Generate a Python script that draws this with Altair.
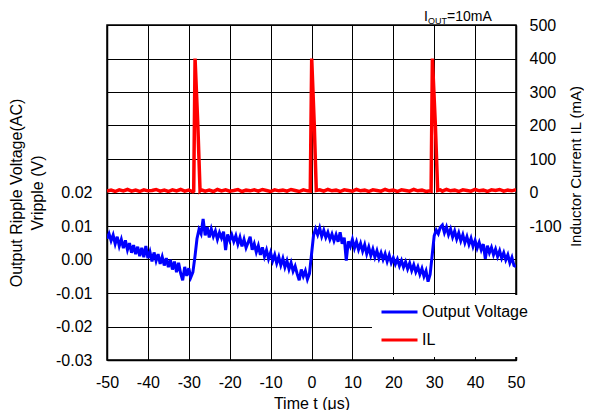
import altair as alt
import pandas as pd

# ---- axis ticks / categories ----
x_ticks = [-50, -40, -30, -20, -10, 0, 10, 20, 30, 40, 50]
v_ticks = [-0.03, -0.02, -0.01, 0.0, 0.01, 0.02, 0.03, 0.04, 0.05, 0.06, 0.07]
il_ticks = [-500, -400, -300, -200, -100, 0, 100, 200, 300, 400, 500]
series_names = ["Output Voltage", "IL"]
series_colors = ["#0000ff", "#ff0000"]

# ---- output ripple voltage (V), sampled every 0.5 us from -50 us ----
vout = [
    0.0062, 0.0077, 0.0056, 0.0073, 0.0047, 0.0068, 0.0040, 0.0060, 0.0034, 0.0057,
    0.0029, 0.0049, 0.0020, 0.0043, 0.0016, 0.0038, 0.0010, 0.0035, 0.0007, 0.0040,
    0.0004, 0.0023, -0.0006, 0.0021, -0.0004, 0.0016, -0.0013, 0.0008, -0.0018, 0.0004,
    -0.0023, -0.0001, -0.0030, -0.0006, -0.0038, -0.0010, -0.0041, -0.0062, -0.0022, -0.0049,
    -0.0026, -0.0053, -0.0038, 0.0008, 0.0062, 0.0090, 0.0077, 0.0121, 0.0072, 0.0097,
    0.0066, 0.0091, 0.0069, 0.0085, 0.0060, 0.0080, 0.0064, 0.0083, 0.0028, 0.0075,
    0.0057, 0.0074, 0.0054, 0.0071, 0.0046, 0.0066, 0.0039, 0.0060, 0.0035, 0.0051,
    0.0068, 0.0029, 0.0047, 0.0022, 0.0041, 0.0014, 0.0036, 0.0009, 0.0028, 0.0002,
    0.0021, -0.0004, 0.0014, -0.0011, 0.0008, -0.0017, 0.0003, -0.0023, -0.0004, -0.0029,
    -0.0010, -0.0035, -0.0020, -0.0043, -0.0062, -0.0030, -0.0050, -0.0034, -0.0059, -0.0042,
    0.0015, 0.0072, 0.0091, 0.0074, 0.0094, 0.0069, 0.0087, 0.0066, 0.0081, 0.0060,
    0.0076, 0.0056, 0.0074, 0.0053, 0.0081, 0.0047, 0.0065, -0.0003, 0.0054, 0.0039,
    0.0060, 0.0034, 0.0053, 0.0030, 0.0048, 0.0025, 0.0044, 0.0017, 0.0037, 0.0012,
    0.0031, 0.0007, 0.0026, 0.0003, 0.0020, 0.0000, 0.0017, -0.0006, 0.0013, -0.0010,
    0.0005, -0.0014, 0.0001, -0.0019, -0.0003, -0.0023, -0.0007, -0.0028, -0.0011, -0.0033,
    -0.0016, -0.0037, -0.0022, -0.0044, -0.0027, -0.0050, -0.0034, -0.0066, -0.0045, 0.0012,
    0.0071, 0.0088, 0.0077, 0.0096, 0.0103, 0.0080, 0.0097, 0.0074, 0.0091, 0.0067,
    0.0085, 0.0061, 0.0079, 0.0056, 0.0074, 0.0050, 0.0068, 0.0045, 0.0063, 0.0039,
    0.0057, 0.0034, 0.0051, 0.0029, 0.0046, 0.0002, 0.0041, 0.0020, 0.0036, 0.0014,
    0.0031, 0.0009, 0.0026, 0.0004, 0.0020, -0.0001, 0.0014, -0.0010, 0.0006, -0.0018,
    -0.0021,
]
vout_t = [-50 + 0.5 * i for i in range(len(vout))]

# ---- inductor current (mA) ----
il_t = [
    -50, -49, -48, -47, -46, -45, -44, -43, -42, -41, -40, -39, -38, -37, -36, -35,
    -34, -33, -32, -31, -30, -29, -28.8, -28.47, -27.79, -27.25, -27, -26, -25, -24,
    -23, -22, -21, -20, -19, -18, -17, -16, -15, -14, -13, -12, -11, -10, -9, -8,
    -7, -6, -5, -4, -3, -2, -1, -0.3, 0.05, 0.68, 1.17, 2, 3, 4, 5, 6, 7, 8, 9, 10,
    11, 12, 13, 14, 15, 16, 17, 18, 19, 20, 21, 22, 23, 24, 25, 26, 27, 28, 29,
    29.24, 29.56, 30.29, 30.85, 31.5, 32, 33, 34, 35, 36, 37, 38, 39, 40, 41, 42,
    43, 44, 45, 46, 47, 48, 49, 50,
]
il = [
    4, 7, 3, 8, 5, 9, 4, 7, 3, 8, 5, 6, 9, 4, 7, 3,
    8, 5, 9, 4, 7, 2, 4, 400, 200, 5, 8, 4, 7, 3,
    9, 5, 8, 4, 6, 9, 3, 7, 5, 8, 4, 9, 6, 3, 8, 5,
    7, 4, 9, 6, 3, 8, 5, 4, 400, 200, 6, 8, 4, 9, 5, 7, 3, 8, 6, 4,
    9, 5, 7, 3, 8, 6, 4, 9, 5, 7, 3, 8, 6, 4, 9, 5, 7, 3, 5,
    4, 400, 200, 6, 8, 4, 9, 5, 7, 3, 8, 6, 4, 9, 5, 7,
    3, 8, 6, 9, 4, 7, 5, 8,
]

df_v = pd.DataFrame({"t": vout_t, "v": vout, "s": series_names[0]})
df_i = pd.DataFrame({"t": il_t, "i": il, "s": series_names[1]})

xscale = alt.Scale(domain=[-50, 50], nice=False, zero=False)
xaxis = alt.Axis(
    values=x_ticks, title="Time t (μs)", grid=True, gridColor="#000", gridWidth=1,
    gridOpacity=1, ticks=False, labelPadding=14, labelFlush=False,
    labelExpr="'' + datum.value",
    domainColor="#000", domainWidth=1.5, titlePadding=5,
)

legend = alt.Legend(
    title=None, orient="none", legendX=265, legendY=270, fillColor="white",
    padding=8, symbolType="stroke", symbolSize=1296, symbolStrokeWidth=3,
    labelFontSize=16, labelOffset=3, rowPadding=10, clipHeight=18,
)
color = alt.Color("s:N", scale=alt.Scale(domain=series_names, range=series_colors), legend=legend)

left_axis = alt.Axis(
    orient="left", values=v_ticks, grid=True, gridColor="#000", gridWidth=1, gridOpacity=1,
    ticks=False, labelPadding=15, labelFlush=False,
    labelExpr="datum.value > 0.025 ? '' : replace(format(datum.value, '.2f'), '\u2212', '-')",
    title=["Output Ripple Voltage(AC)", "Vripple (V)"], titleLineHeight=21, titlePadding=10,
    domainColor="#000", domainWidth=1.5,
)
right_axis = alt.Axis(
    orient="right", values=il_ticks, grid=False, ticks=False, labelPadding=13, labelFlush=False,
    labelExpr="datum.value < -150 ? '' : '' + datum.value",
    title="Inductor Current IL (mA)", titleAngle=270, titleFontSize=15,
    titleX=59, titleY=141, titleAlign="center", titleBaseline="middle",
    domainColor="#000", domainWidth=1.5,
)

blue = alt.Chart(df_v).mark_line(strokeWidth=3, clip=True).encode(
    x=alt.X("t:Q", scale=xscale, axis=xaxis),
    y=alt.Y("v:Q", scale=alt.Scale(domain=[-0.03, 0.07], nice=False, zero=False), axis=left_axis),
    color=color,
)
red = alt.Chart(df_i).mark_line(strokeWidth=3.5, clip=True).encode(
    x=alt.X("t:Q", scale=xscale, axis=xaxis),
    y=alt.Y("i:Q", scale=alt.Scale(domain=[-500, 500], nice=False, zero=False), axis=right_axis),
    color=color,
)

ann_main = alt.Chart(pd.DataFrame({"txt": ["I"]})).mark_text(
    fontSize=14, align="left", baseline="alphabetic", color="#000"
).encode(x=alt.value(317), y=alt.value(-4), text="txt:N")
ann_sub = alt.Chart(pd.DataFrame({"txt": ["OUT"]})).mark_text(
    fontSize=9, align="left", baseline="alphabetic", color="#000"
).encode(x=alt.value(321), y=alt.value(-1), text="txt:N")
ann_val = alt.Chart(pd.DataFrame({"txt": ["=10mA"]})).mark_text(
    fontSize=14, align="left", baseline="alphabetic", color="#000"
).encode(x=alt.value(340), y=alt.value(-4), text="txt:N")

chart = (
    alt.layer(blue, red, ann_main, ann_sub, ann_val)
    .resolve_scale(y="independent")
    .properties(
        width=409, height=335,
        autosize=alt.AutoSizeParams(type="none"),
        padding={"left": 99, "top": 17, "right": 68, "bottom": 50},
    )
    .configure(font="Liberation Sans")
    .configure_view(stroke="#000", strokeWidth=1.5)
    .configure_axis(
        labelFontSize=16, titleFontSize=16, titleFontWeight="normal",
        labelColor="#000", titleColor="#000",
    )
    .configure_legend(labelColor="#000")
)

chart.save("out.html", embed_options={"renderer": "svg", "actions": False})
